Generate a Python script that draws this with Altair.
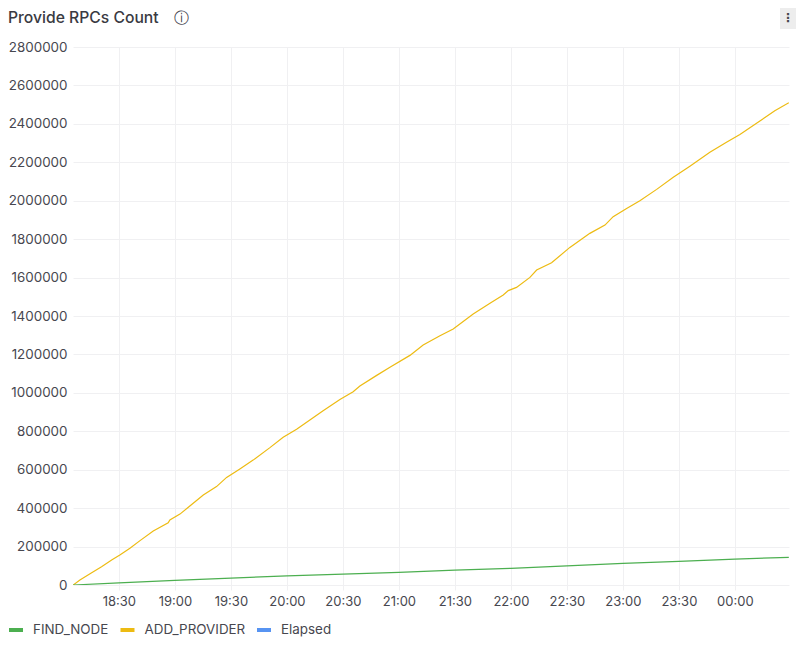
import altair as alt

add_times = [
    "18:05:30","18:09:06","18:15:24","18:20:42","18:26:06","18:30:30","18:35:54","18:41:18","18:48:24","18:56:24",
    "18:57:18","19:02:42","19:08:00","19:15:12","19:22:18","19:27:42","19:34:48","19:41:54","19:50:54","19:58:00",
    "20:05:12","20:12:18","20:19:24","20:28:24","20:35:30","20:39:06","20:48:06","20:55:12","21:05:54","21:13:00",
    "21:22:00","21:29:06","21:39:48","21:48:48","21:55:54","21:58:36","22:03:00","22:10:12","22:13:48","22:21:48",
    "22:31:36","22:42:18","22:50:24","22:54:48","23:02:00","23:09:06","23:18:06","23:27:00","23:35:54","23:46:36",
    "23:55:30","00:02:42","00:13:24","00:21:24","00:28:54",
]
add_values = [
    0,26000,64000,95000,130000,156000,191000,231000,281000,324000,
    338000,369000,411000,468000,512000,560000,604000,650000,715000,769000,
    810000,859000,907000,966000,1006000,1036000,1091000,1133000,1195000,1249000,
    1297000,1332000,1410000,1466000,1509000,1532000,1549000,1601000,1639000,1677000,
    1757000,1830000,1873000,1917000,1960000,2000000,2059000,2122000,2180000,2252000,
    2304000,2345000,2415000,2468000,2510000,
]
find_times = [
    "18:05:30","18:30:00","19:00:00","19:30:00","20:00:00","20:30:00","21:00:00","21:30:00",
    "22:00:00","22:30:00","23:00:00","23:30:00","00:00:00","00:28:54",
]
find_values = [
    0,11000,24000,36000,47000,57000,66000,77000,
    87000,100000,113000,123000,135000,144000,
]
x_tick_hours = [(1,18,30),(1,19,0),(1,19,30),(1,20,0),(1,20,30),(1,21,0),(1,21,30),(1,22,0),(1,22,30),(1,23,0),(1,23,30),(2,0,0)]
series_names = ["FIND_NODE", "ADD_PROVIDER", "Elapsed"]
series_colors = ["#4CAF50", "#EDBB12", "#5794F2"]
y_ticks = list(range(0, 2800001, 200000))
title_text = "Provide RPCs Count"
info_glyph = "\u24d8"
menu_glyph = "\u22ee"


def stamp(t):
    return ("2024-01-02T" if t.startswith("00") else "2024-01-01T") + t


rows = [{"t": stamp(t), "v": v, "s": "ADD_PROVIDER"} for t, v in zip(add_times, add_values)]
rows += [{"t": stamp(t), "v": v, "s": "FIND_NODE"} for t, v in zip(find_times, find_values)]

FONT = "Inter"
TXT = "#47474F"
GRID = "#F0F0F2"

x_start = alt.DateTime(year=2024, month=1, date=1, hours=18, minutes=5, seconds=24)
x_end = alt.DateTime(year=2024, month=1, date=2, hours=0, minutes=29, seconds=0)
x_vals = [alt.DateTime(year=2024, month=1, date=d, hours=h, minutes=m) for d, h, m in x_tick_hours]

lines = alt.Chart(alt.Data(values=rows)).mark_line(strokeWidth=1.2, clip=True).encode(
    x=alt.X(
        "t:T",
        scale=alt.Scale(domain=[x_start, x_end]),
        axis=alt.Axis(
            title=None,
            format="%H:%M",
            values=x_vals,
            grid=True,
            gridColor=GRID,
            domain=False,
            tickColor=GRID,
            tickSize=5,
            labelFontSize=13,
            labelColor=TXT,
            labelFont=FONT,
            labelPadding=5,
        ),
    ),
    y=alt.Y(
        "v:Q",
        scale=alt.Scale(domain=[0, 2800000], nice=False),
        axis=alt.Axis(
            title=None,
            values=y_ticks,
            format="d",
            grid=True,
            gridColor=GRID,
            domain=False,
            ticks=False,
            labelFontSize=13.4,
            labelColor=TXT,
            labelFont=FONT,
            labelPadding=6,
        ),
    ),
    color=alt.Color(
        "s:N",
        scale=alt.Scale(domain=series_names, range=series_colors),
        legend=alt.Legend(
            title=None,
            orient="none",
            legendX=-66,
            legendY=574,
            direction="horizontal",
            columns=3,
            columnPadding=3.5,
            symbolType="stroke",
            symbolStrokeWidth=4,
            symbolSize=196,
            labelFont=FONT,
            labelFontSize=13.4,
            labelColor=TXT,
            labelOffset=8,
        ),
    ),
)

menu_bg = alt.Chart(alt.Data(values=[{"k": "menu"}])).mark_rect(color="#EDEDED", clip=False).encode(
    x=alt.value(707), x2=alt.value(731), y=alt.value(-39), y2=alt.value(-18)
)
menu_dots = alt.Chart(alt.Data(values=[{"k": menu_glyph}])).mark_text(
    font="DejaVu Sans", fontSize=12, color="#47474F", fontWeight="bold", baseline="middle", clip=False
).encode(text="k:N", x=alt.value(715), y=alt.value(-29))
info = alt.Chart(alt.Data(values=[{"k": info_glyph}])).mark_text(
    font="DejaVu Sans", fontSize=15, color="#47474F", baseline="middle", clip=False
).encode(text="k:N", x=alt.value(108), y=alt.value(-29))
title = alt.Chart(alt.Data(values=[{"k": title_text}])).mark_text(
    font=FONT, fontSize=15.7, fontWeight=500, color="#3A3A42", align="left", baseline="middle", clip=False
).encode(text="k:N", x=alt.value(-65), y=alt.value(-29))

chart = alt.layer(lines, menu_bg, menu_dots, info, title).properties(
    width=716,
    height=538,
    autosize=alt.AutoSizeParams(type="none"),
    padding={"left": 65, "top": 39, "right": 7, "bottom": 54},
    background="white",
).configure_view(stroke=None)

chart.save("out.html", embed_options={"renderer": "svg", "actions": False})
